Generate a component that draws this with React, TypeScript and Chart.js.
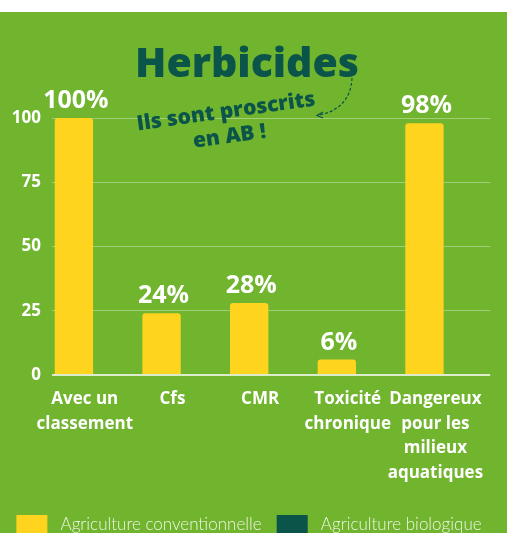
import React, { useEffect, useRef } from 'react';
import { Chart, registerables } from 'chart.js';

Chart.register(...registerables);

const categories: string[][] = [
  ['Avec un', 'classement'],
  ['Cfs'],
  ['CMR'],
  ['Toxicité', 'chronique'],
  ['Dangereux', 'pour les', 'milieux', 'aquatiques'],
];
const conventionnelle = [100, 24, 28, 6, 98];
const biologique = [0, 0, 0, 0, 0];
const seriesNames = ['Agriculture conventionnelle', 'Agriculture biologique'];
const yMin = 0;
const yMax = 100;
const yStep = 25;
const titleText = 'Herbicides';
const noteLines = ['Ils sont proscrits', 'en AB !'];

const GREEN = '#71b42e';
const YELLOW = '#fed41f';
const TEAL = '#0b5449';

const overlay = {
  id: 'overlay',
  afterDatasetsDraw(chart: any) {
    const ctx = chart.ctx as CanvasRenderingContext2D;
    const meta = chart.getDatasetMeta(0);
    ctx.save();
    // value labels
    ctx.fillStyle = '#ffffff';
    ctx.font = '700 25px "Open Sans"';
    ctx.textAlign = 'center';
    ctx.textBaseline = 'alphabetic';
    meta.data.forEach((bar: any, i: number) => {
      ctx.fillText(conventionnelle[i] + '%', bar.x + 2, bar.y - 10);
    });
    // title
    ctx.fillStyle = TEAL;
    ctx.font = '800 41px "Open Sans"';
    ctx.fillText(titleText, 247, 65);
    // note
    ctx.save();
    ctx.translate(226, 100);
    ctx.rotate((-8 * Math.PI) / 180);
    ctx.font = '800 21px "Open Sans"';
    ctx.textBaseline = 'middle';
    ctx.fillText(noteLines[0], 0, 0);
    ctx.fillText(noteLines[1], 0, 25);
    ctx.restore();
    // dashed arrow
    ctx.strokeStyle = TEAL;
    ctx.lineWidth = 1.2;
    ctx.setLineDash([3, 2]);
    ctx.beginPath();
    ctx.moveTo(352, 66);
    ctx.bezierCurveTo(351, 86, 340, 99, 319, 103);
    ctx.stroke();
    ctx.setLineDash([]);
    ctx.beginPath();
    ctx.moveTo(323, 100);
    ctx.lineTo(317, 103.5);
    ctx.lineTo(323, 106);
    ctx.stroke();
    ctx.restore();
  },
};

export default function App() {
  const ref = useRef<HTMLCanvasElement | null>(null);
  useEffect(() => {
    if (!ref.current) return;
    const chart = new Chart(ref.current, {
      type: 'bar',
      data: {
        labels: categories as any,
        datasets: [
          {
            label: ' ' + seriesNames[0],
            data: conventionnelle,
            backgroundColor: YELLOW,
            borderWidth: 0,
            borderRadius: 3,
            borderSkipped: 'bottom',
            categoryPercentage: 1,
            barPercentage: 0.875,
          },
          {
            label: ' ' + seriesNames[1],
            data: biologique,
            backgroundColor: TEAL,
            borderWidth: 0,
            categoryPercentage: 1,
            barPercentage: 0.875,
          },
        ],
      },
      options: {
        animation: false,
        responsive: true,
        maintainAspectRatio: false,
        layout: { padding: { top: 106, right: 9, left: 0, bottom: 0 } },
        plugins: {
          tooltip: { enabled: false },
          title: { display: false },
          legend: {
            position: 'bottom',
            labels: {
              boxWidth: 31,
              boxHeight: 20,
              padding: 15,
              color: '#eef6e4',
              font: { family: 'Lato', size: 17, weight: '300' as any },
            },
          },
        },
        scales: {
          x: {
            afterFit: (s: any) => {
              s.height = 125;
            },
            grid: { display: false, drawTicks: false },
            border: { display: false },
            ticks: {
              color: '#ffffff',
              font: { family: 'Open Sans', size: 17, weight: 'bold', lineHeight: 1.45 },
              padding: 12,
              labelOffset: -11,
              maxRotation: 0,
              autoSkip: false,
            },
          },
          y: {
            min: yMin,
            max: yMax,
            afterFit: (s: any) => {
              s.width = 52;
            },
            grid: {
              drawTicks: false,
              color: (c: any) => (c.tick && c.tick.value === 0 ? 'rgba(255,255,255,0.75)' : 'rgba(255,255,255,0.35)'),
              lineWidth: (c: any) => (c.tick && c.tick.value === 0 ? 2 : 1),
            },
            border: { display: false },
            ticks: {
              stepSize: yStep,
              color: '#ffffff',
              font: { family: 'Open Sans', size: 17, weight: 'bold' },
              padding: 11,
            },
          },
        },
      },
      plugins: [overlay],
    });
    return () => chart.destroy();
  }, []);
  return (
    <div
      style={{
        position: 'absolute',
        left: 0,
        top: 12,
        width: 507,
        height: 521,
        overflow: 'hidden',
        background: GREEN,
      }}
    >
      <div style={{ position: 'relative', width: 507, height: 533 }}>
        <canvas ref={ref} />
      </div>
    </div>
  );
}
